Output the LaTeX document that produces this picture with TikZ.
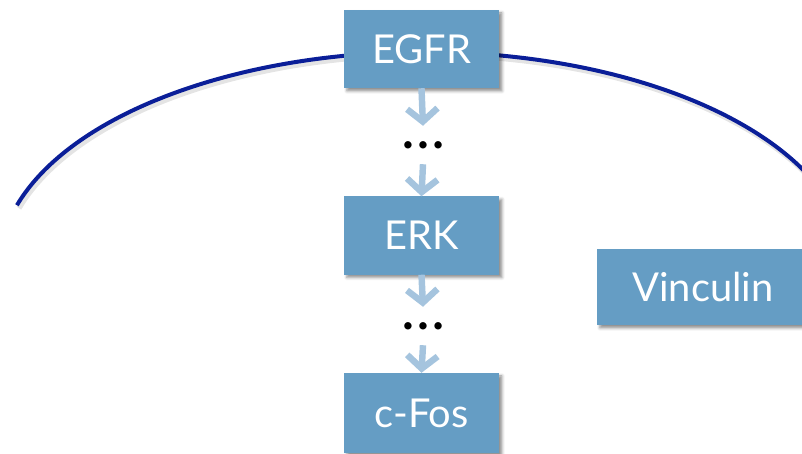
\documentclass[tikz,border=0pt]{standalone}
\usepackage{fontspec}
\setmainfont{Lato}
\usetikzlibrary{arrows.meta,shadows.blur}
\definecolor{boxblue}{RGB}{101,157,196}
\definecolor{flowblue}{RGB}{165,196,222}
\definecolor{rim}{RGB}{10,30,152}
\begin{document}
\begin{tikzpicture}[x=0.03cm,y=-0.03cm,
  stage/.style={fill=boxblue, text=white, inner sep=0pt,
    font=\fontsize{34}{38}\selectfont,
    minimum width=4.65cm, minimum height=2.34cm,
    blur shadow={shadow xshift=2.5pt, shadow yshift=-2.5pt,
      shadow blur radius=2.5pt, shadow opacity=45}},
  gap/.style={inner sep=0pt, minimum height=1.14cm,
    font=\fontsize{50}{50}\selectfont},
  flow/.style={draw=flowblue, line width=5.5pt,
    -{Straight Barb[length=11pt, width=26pt, line width=5.5pt]}}]
\useasboundingbox (0,0) rectangle (802,454);
\clip (0,0) rectangle (802,454);

% membrane outline with its soft shadow
\draw[black!30, opacity=0.35, line width=0.16cm]
  (426,270) ++(196.7:425 and 215) arc[start angle=196.7, end angle=352,
  x radius=425, y radius=215];
\draw[rim, line width=0.12cm]
  (424,267) ++(196.7:425 and 215) arc[start angle=196.7, end angle=352,
  x radius=425, y radius=215];

% signalling cascade
\node[stage] (egfr) at (421.5,49) {EGFR};
\node[gap] (d1) at (423,145) {…};
\node[stage] (erk) at (421.5,235.5) {ERK};
\node[gap] (d2) at (423,326) {…};
\node[stage, minimum height=2.4cm] (cfos) at (421.5,413) {c-Fos};
\node[stage, minimum width=6.36cm, minimum height=2.28cm] (vinc) at (703,287) {Vinculin};

\draw[flow] (egfr.south) -- (d1.north);
\draw[flow] (d1.south) -- (erk.north);
\draw[flow] (erk.south) -- (d2.north);
\draw[flow] (d2.south) -- (cfos.north);
\end{tikzpicture}
\end{document}
